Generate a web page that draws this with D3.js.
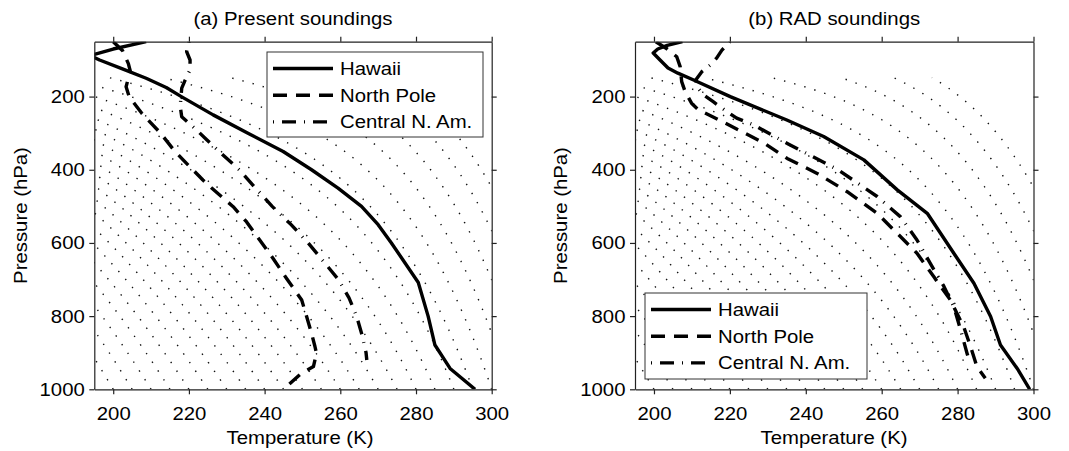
<!DOCTYPE html>
<html>
<head>
<meta charset="utf-8">
<script src="https://cdn.jsdelivr.net/npm/d3@7"></script>
<style>
  body { margin: 0; background: #fff; }
  text { font-family: "Liberation Sans", Arial, sans-serif; fill: #000; }
</style>
</head>
<body>
<svg id="chart" width="1069" height="451"></svg>
<script>
// axis settings
var tempDomain = [195, 300];
var presDomain = [50, 1000];
var xTicks = [200, 220, 240, 260, 280, 300];
var yTicks = [200, 400, 600, 800, 1000];

// moist adiabats: temperature at 1000 hPa (K), drawn up to adiabatTop hPa
var adiabatBase = [195, 200, 205, 210, 215, 220, 225, 230, 235, 240, 245, 250, 255,
                   260, 265, 270, 275, 280, 285, 290, 295, 300, 305, 310, 315, 320];
var adiabatTop = 147;

// (a) present soundings
var hawaiiA_p = [50, 70, 88, 100, 125, 150, 175, 200, 250, 300, 350, 400, 450, 500, 550, 600, 708, 800, 879, 943, 1000];
var hawaiiA_T = [208.7, 200, 194, 196.4, 202.6, 208.7, 214, 218, 226.4, 235.6, 244.9, 252.4, 259.4, 265.6, 270, 273.5, 280.6, 283.2, 285, 289, 295.6];

var northA_p = [50, 75, 110, 130, 173, 200, 245, 300, 346, 382, 428, 450, 501, 542, 592, 642, 697, 756, 801, 847, 883, 902, 938, 956, 993, 1000];
var northA_T = [200, 202.5, 204, 204.5, 203.4, 204.2, 207.5, 212.5, 216, 219.3, 223.7, 226, 231.7, 235.2, 238.7, 242.2, 245.8, 249.8, 251.1, 252.4, 253.3, 253.7, 252.9, 249.7, 245.8, 245.3];

var centralA_p = [50, 77, 100, 127, 155, 177, 227, 255, 291, 318, 350, 400, 450, 500, 550, 600, 650, 700, 750, 800, 850, 900, 920];
var centralA_T = [220, 219.4, 220.3, 220.3, 219, 218.1, 217.7, 218.1, 222, 224.7, 228, 233.3, 237.6, 242, 247, 251.5, 255.5, 259.5, 262.3, 264.3, 265.7, 266.8, 267];

// (b) RAD soundings
var hawaiiB_p = [50, 60, 70, 81, 100, 122, 136, 154, 200, 264, 309, 373, 455, 519, 628, 710, 801, 879, 943, 1000];
var hawaiiB_T = [207.5, 203.5, 201, 199.8, 201.6, 203.7, 206.3, 210.3, 220.1, 235, 244.7, 255.3, 264.1, 272, 279, 284.3, 288.7, 291.3, 295.7, 299];

var northB_p = [50, 70, 91, 118, 159, 186, 218, 236, 264, 295, 327, 369, 410, 460, 519, 574, 628, 692, 756, 829, 883, 938, 970];
var northB_T = [200.5, 203.5, 206, 206.9, 207.3, 208.2, 209.9, 211.7, 217.2, 223, 229, 235.1, 243, 250.9, 258.8, 264.1, 269.3, 273.7, 278.1, 281.6, 283.4, 285.1, 287.3];

var centralB_p = [50, 73, 95, 114, 132, 155, 175, 195, 214, 241, 259, 277, 295, 330, 400, 473, 528, 592, 656, 719, 774, 838, 902, 920];
var centralB_T = [220, 217.9, 216.5, 214.8, 212.6, 211, 211.5, 213, 215.6, 219.2, 221.8, 226.2, 229.3, 235.5, 248.5, 258.8, 264.9, 269.3, 272.8, 276.4, 279, 280.8, 282.5, 283];

var seriesNames = ['Hawaii', 'North Pole', 'Central N. Am.'];

var SX = 1.1;      // horizontal stretch of the lettering
var FS = 18.5;
var yTop = 41.7, yBottom = 389.3;

var svg = d3.select('#chart');

var lineStyles = [
  { dash: null },
  { dash: '14,9' },
  { dash: '1,8,14,8' }
];

var panels = [
  {
    id: 'a', title: '(a) Present soundings', left: 94.3, right: 491.7,
    data: [[hawaiiA_p, hawaiiA_T], [northA_p, northA_T], [centralA_p, centralA_T]],
    legend: { x: 267, y: 52, w: 216, h: 85 }, xlabelX: 300, ylabelX: 27
  },
  {
    id: 'b', title: '(b) RAD soundings', left: 635, right: 1033.5,
    data: [[hawaiiB_p, hawaiiB_T], [northB_p, northB_T], [centralB_p, centralB_T]],
    legend: { x: 645, y: 293, w: 222, h: 86 }, xlabelX: 834, ylabelX: 567
  }
];

// pseudo-adiabat integrated upward from 1000 hPa
function moistCurve(t0) {
  var Rd = 287.04, cp = 1005.7, Lv = 2.501e6, eps = 0.622;
  function es(T) { return 6.112 * Math.exp(17.67 * (T - 273.15) / (T - 29.65)); }
  function f(p, T) {
    var e = es(T);
    var rs = eps * e / (p - e);
    return (Rd * T + Lv * rs) / (p * (cp + Lv * Lv * rs * eps / (Rd * T * T)));
  }
  var pts = [[t0, 1000]];
  var T = t0, p = 1000, h = -2;
  while (p + h >= adiabatTop - 1e-9) {
    var k1 = f(p, T);
    var k2 = f(p + h / 2, T + h / 2 * k1);
    var k3 = f(p + h / 2, T + h / 2 * k2);
    var k4 = f(p + h, T + h * k3);
    T = T + h / 6 * (k1 + 2 * k2 + 2 * k3 + k4);
    p = p + h;
    pts.push([T, p]);
  }
  return pts;
}

function addText(g, x, y, str, anchor, rot) {
  return g.append('text')
    .attr('transform', 'translate(' + x + ',' + y + ') rotate(' + (rot || 0) + ') scale(' + SX + ',1)')
    .attr('text-anchor', anchor || 'start')
    .attr('font-size', FS)
    .text(str);
}

panels.forEach(function(pn) {
  var x = d3.scaleLinear().domain(tempDomain).range([pn.left, pn.right]);
  var y = d3.scaleLinear().domain(presDomain).range([yTop, yBottom]);
  var g = svg.append('g');

  g.append('clipPath').attr('id', 'clip-' + pn.id)
    .append('rect')
    .attr('x', pn.left).attr('y', yTop)
    .attr('width', pn.right - pn.left).attr('height', yBottom - yTop);

  var plot = g.append('g').attr('clip-path', 'url(#clip-' + pn.id + ')');

  // dotted moist adiabats
  var adLine = d3.line().x(function(d) { return x(d[0]); }).y(function(d) { return y(d[1]); });
  plot.selectAll('path.adiabat')
    .data(adiabatBase.map(moistCurve))
    .enter().append('path')
    .attr('class', 'adiabat')
    .attr('d', adLine)
    .attr('fill', 'none')
    .attr('stroke', '#111')
    .attr('stroke-width', 1.4)
    .attr('stroke-dasharray', '1.4,9.1');

  // soundings
  var sLine = d3.line().x(function(d) { return x(d.T); }).y(function(d) { return y(d.p); });
  pn.data.forEach(function(s, i) {
    var rows = s[0].map(function(pv, j) { return { p: pv, T: s[1][j] }; });
    var path = plot.append('path')
      .datum(rows)
      .attr('d', sLine)
      .attr('fill', 'none')
      .attr('stroke', '#000')
      .attr('stroke-width', 3.4)
      .attr('stroke-linejoin', 'round');
    if (lineStyles[i].dash) path.attr('stroke-dasharray', lineStyles[i].dash);
  });

  // axes, ticks pointing out on all sides
  var axB = g.append('g').attr('transform', 'translate(0,' + yBottom + ')')
    .call(d3.axisBottom(x).tickValues(xTicks).tickSize(5).tickSizeOuter(0).tickPadding(13));
  var axT = g.append('g').attr('transform', 'translate(0,' + yTop + ')')
    .call(d3.axisTop(x).tickValues(xTicks).tickSize(5).tickSizeOuter(0).tickFormat(''));
  var axL = g.append('g').attr('transform', 'translate(' + pn.left + ',0)')
    .call(d3.axisLeft(y).tickValues(yTicks).tickSize(5).tickSizeOuter(0).tickFormat(d3.format('d')));
  var axR = g.append('g').attr('transform', 'translate(' + pn.right + ',0)')
    .call(d3.axisRight(y).tickValues(yTicks).tickSize(5).tickSizeOuter(0).tickFormat(''));

  [axB, axT, axL, axR].forEach(function(a) {
    a.selectAll('path,line').attr('stroke', '#222').attr('stroke-width', 1.2);
    a.selectAll('text').attr('font-size', FS).attr('font-family', '"Liberation Sans", Arial, sans-serif').attr('fill', '#000');
  });
  axB.selectAll('text').attr('transform', 'scale(' + SX + ',1)');
  axL.selectAll('text').attr('x', null).attr('transform', 'translate(-9.5,0) scale(' + SX + ',1)');

  // titles and labels
  addText(g, (pn.left + pn.right) / 2, 25, pn.title, 'middle');
  addText(g, pn.xlabelX, 443.5, 'Temperature (K)', 'middle');
  addText(g, pn.ylabelX, (yTop + yBottom) / 2, 'Pressure (hPa)', 'middle', -90);

  // legend
  var L = pn.legend;
  var lg = g.append('g');
  lg.append('rect')
    .attr('x', L.x).attr('y', L.y).attr('width', L.w).attr('height', L.h)
    .attr('fill', '#fff').attr('stroke', '#333').attr('stroke-width', 1);
  seriesNames.forEach(function(name, i) {
    var cy = L.y + 16.5 + i * 26.7;
    var ln = lg.append('line')
      .attr('x1', L.x + 6).attr('x2', L.x + 66)
      .attr('y1', cy).attr('y2', cy)
      .attr('stroke', '#000').attr('stroke-width', 3.4);
    if (lineStyles[i].dash) ln.attr('stroke-dasharray', lineStyles[i].dash);
    addText(lg, L.x + 73, cy + 6.5, name, 'start');
  });
});
</script>
</body>
</html>
